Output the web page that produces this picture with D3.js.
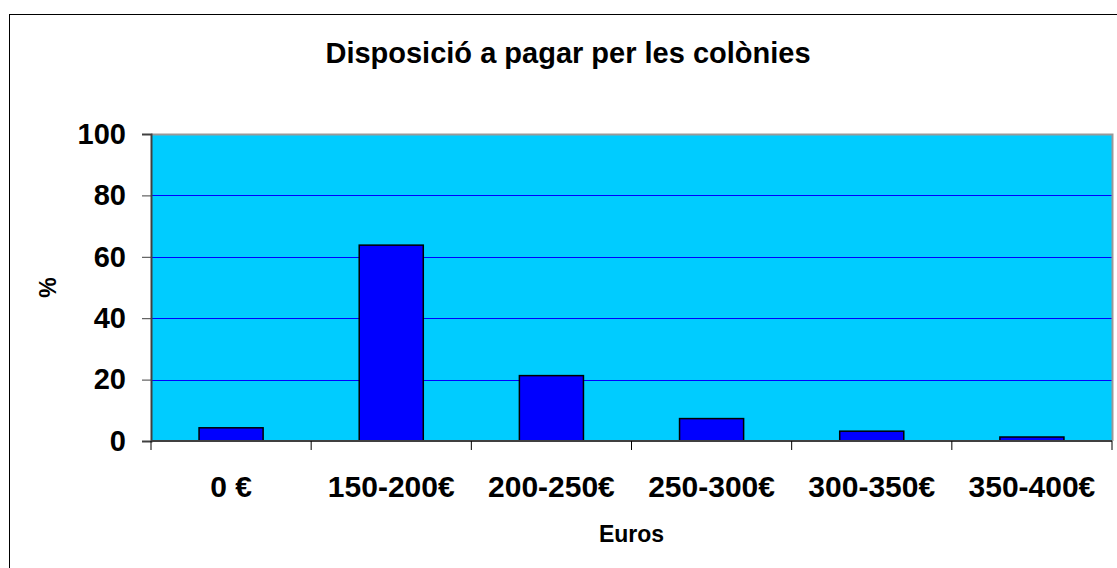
<!DOCTYPE html>
<html>
<head>
<meta charset="utf-8">
<script src="https://cdn.jsdelivr.net/npm/d3@7"></script>
<style>
  body { margin: 0; background: #fff; }
  svg text { font-family: "Liberation Sans", Arial, sans-serif; font-weight: bold; fill: #000; }
</style>
</head>
<body>
<div class="chart"></div>
<script>
// chart values
var categories = ["0 €", "150-200€", "200-250€", "250-300€", "300-350€", "350-400€"];
var percents = [4.3, 63.8, 21.3, 7.3, 3.2, 1.3];
var yTicks = [0, 20, 40, 60, 80, 100];
var titleText = "Disposició a pagar per les colònies";
var xTitle = "Euros";
var yTitle = "%";

var width = 1117, height = 568;
var plot = {left: 151, top: 134, right: 1112, bottom: 441};

var svg = d3.select(".chart").append("svg")
    .attr("width", width)
    .attr("height", height);

// outer chart border (right/bottom fall outside the picture)
svg.append("rect")
    .attr("x", 9.5).attr("y", 14.5)
    .attr("width", 1200).attr("height", 600)
    .attr("fill", "#fff")
    .attr("stroke", "#000")
    .attr("stroke-width", 1);

var x = d3.scaleBand()
    .domain(categories)
    .range([plot.left, plot.right])
    .paddingInner(0.6)
    .paddingOuter(0.3);

var y = d3.scaleLinear()
    .domain([0, 100])
    .range([plot.bottom, plot.top]);

// plot background
svg.append("rect")
    .attr("x", plot.left).attr("y", plot.top)
    .attr("width", plot.right - plot.left)
    .attr("height", plot.bottom - plot.top)
    .attr("fill", "#00CCFF");

// gridlines
svg.append("g")
    .selectAll("line")
    .data(yTicks.filter(function(d){ return d > 0 && d < 100; }))
    .enter().append("line")
        .attr("x1", plot.left).attr("x2", plot.right)
        .attr("y1", d => Math.round(y(d)) + 0.5)
        .attr("y2", d => Math.round(y(d)) + 0.5)
        .attr("stroke", "#0000FF")
        .attr("stroke-width", 1);

// plot border top/right (grey)
svg.append("path")
    .attr("d", "M" + plot.left + "," + (plot.top + 0.5) + "H" + (plot.right + 0.5) + "V" + plot.bottom)
    .attr("fill", "none")
    .attr("stroke", "#999")
    .attr("stroke-width", 2);

// bars
svg.append("g")
    .selectAll("rect")
    .data(percents)
    .enter().append("rect")
        .attr("x", (d, i) => x(categories[i]))
        .attr("y", d => y(d))
        .attr("width", x.bandwidth())
        .attr("height", d => y(0) - y(d))
        .attr("fill", "#0000FF")
        .attr("stroke", "#000")
        .attr("stroke-width", 1.5);

// y axis
var yAxis = svg.append("g")
    .attr("transform", "translate(" + plot.left + ",0)")
    .call(d3.axisLeft(y).tickValues(yTicks).tickSize(9).tickPadding(16));
yAxis.selectAll("text")
    .style("font-size", "29px");

// x axis, ticks on category boundaries
var boundaries = d3.range(categories.length + 1).map(function(i){
    return plot.left + i * (plot.right - plot.left) / categories.length;
});
var xAxis = svg.append("g")
    .attr("transform", "translate(0," + plot.bottom + ")");
xAxis.append("line")
    .attr("x1", plot.left).attr("x2", plot.right)
    .attr("stroke", "#404040").attr("stroke-width", 2);
xAxis.selectAll("line.tick")
    .data(boundaries)
    .enter().append("line")
        .attr("class", "tick")
        .attr("x1", d => d).attr("x2", d => d)
        .attr("y1", 0).attr("y2", 9)
        .attr("stroke", "#000");
xAxis.selectAll("text")
    .data(categories)
    .enter().append("text")
        .attr("x", d => x(d) + x.bandwidth() / 2)
        .attr("y", 56)
        .attr("text-anchor", "middle")
        .style("font-size", "30px")
        .text(d => d);

yAxis.select(".domain").attr("stroke", "#404040").attr("stroke-width", 2);
yAxis.selectAll(".tick line").attr("stroke", "#404040");

// titles
svg.append("text")
    .attr("x", 568).attr("y", 63)
    .attr("text-anchor", "middle")
    .style("font-size", "29px")
    .text(titleText);

svg.append("text")
    .attr("x", (plot.left + plot.right) / 2).attr("y", 542)
    .attr("text-anchor", "middle")
    .style("font-size", "23px")
    .text(xTitle);

svg.append("text")
    .attr("transform", "translate(56," + ((plot.top + plot.bottom) / 2) + ") rotate(-90)")
    .attr("text-anchor", "middle")
    .style("font-size", "23px")
    .text(yTitle);
</script>
</body>
</html>
